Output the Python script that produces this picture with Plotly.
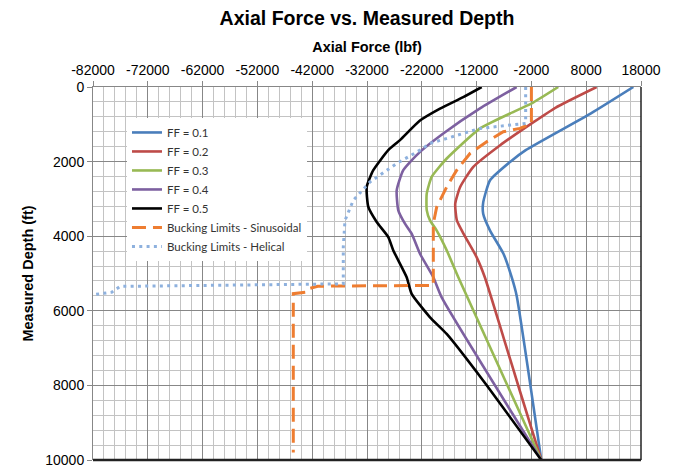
import plotly.graph_objects as go

# ---- data ----
x_ticks = [-82000, -72000, -62000, -52000, -42000, -32000, -22000, -12000, -2000, 8000, 18000]
x_tick_text = ["-82000", "-72000", "-62000", "-52000", "-42000", "-32000", "-22000", "-12000", "-2000", "8000", "18000"]
y_ticks = [0, 2000, 4000, 6000, 8000, 10000]
y_tick_text = ["0", "2000", "4000", "6000", "8000", "10000"]

ff1_x = [16600, 8870, -3040, -5900, -9550, -10800, -10800, -9550, -7100, -5600, -4700, -200]
ff1_y = [0, 707, 1693, 2010, 2500, 3100, 3400, 3850, 4470, 5100, 5590, 10000]

ff2_x = [9900, 2450, -1950, -7700, -12600, -15000, -15900, -15600, -14400, -12000, -10500, -7100, -4100, -200]
ff2_y = [0, 550, 975, 1560, 2140, 2680, 3130, 3575, 3930, 4560, 5100, 6710, 8150, 10000]

ff3_x = [2900, -1950, -5900, -11380, -17450, -20200, -21100, -21100, -20500, -19300, -17450, -15340, -200]
ff3_y = [0, 440, 710, 1110, 1917, 2410, 2860, 3300, 3575, 3844, 4380, 5100, 10000]

ff4_x = [-4700, -11380, -18080, -22330, -25380, -26580, -26290, -25070, -23850, -22330, -19900, -18370, -200]
ff4_y = [0, 573, 1245, 1740, 2230, 2770, 3306, 3664, 3933, 4471, 5100, 5640, 10000]

ff5_x = [-11073, -14430, -18680, -22330, -25980, -28115, -30850, -32057, -31757, -30232, -28115, -27200, -24760, -23850, -20500, -17460, -10780, -200]
ff5_y = [0, 270, 580, 900, 1425, 1693, 2231, 2680, 3217, 3620, 4023, 4381, 5100, 5545, 6175, 6620, 7876, 10000]

sin_x = [-2000, -2000, -4080, -7130, -10160, -13200, -15630, -17460, -19280, -19900, -19900, -41000, -42500, -43000, -45450, -45450]
sin_y = [0, 976, 1110, 1200, 1470, 1782, 2231, 2680, 3217, 3664, 5320, 5340, 5400, 5500, 5540, 9800]

hel_x = [-3050, -3050, -11380, -15630, -20500, -22330, -26580, -31450, -34500, -36015, -36326, -36326, -77070, -78590, -82000]
hel_y = [0, 976, 1110, 1290, 1513, 1693, 2051, 2545, 3037, 3575, 4293, 5277, 5345, 5502, 5570]

series = [
    ("FF = 0.1", ff1_x, ff1_y, "#4A7EBB", "solid", 2.6, "spline"),
    ("FF = 0.2", ff2_x, ff2_y, "#BE4B48", "solid", 2.6, "spline"),
    ("FF = 0.3", ff3_x, ff3_y, "#98B954", "solid", 2.6, "spline"),
    ("FF = 0.4", ff4_x, ff4_y, "#7D60A0", "solid", 2.6, "spline"),
    ("FF = 0.5", ff5_x, ff5_y, "#000000", "solid", 2.6, "spline"),
    ("Bucking Limits - Sinusoidal", sin_x, sin_y, "#EE7D31", "14px,7px", 3, "linear"),
    ("Bucking Limits - Helical", hel_x, hel_y, "#8EB1DE", "3px,4.3px", 3, "linear"),
]

fig = go.Figure()
for name, xs, ys, color, dash, w, shape in series:
    fig.add_trace(go.Scatter(x=xs, y=ys, mode="lines", name=name,
                             line=dict(color=color, width=w, dash=dash, shape=shape,
                                       smoothing=0.5 if shape == "spline" else None)))

FONT = "Liberation Sans, Arial, sans-serif"
MAJOR = "#878787"
MINOR = "#C3C3C3"

fig.update_layout(
    width=678, height=467,
    margin=dict(l=93, r=37, t=87, b=7),
    paper_bgcolor="white", plot_bgcolor="white",
    font=dict(family=FONT, color="#000000"),
    title=dict(text="Axial Force vs. Measured Depth", xref="paper", x=0.5, xanchor="center",
               yref="container", y=1 - 18 / 467, yanchor="middle",
               font=dict(family=FONT, size=19.5, weight="bold", color="#000000")),
    showlegend=True,
    legend=dict(x=0.062, y=0.917, xanchor="left", yanchor="top", bgcolor="white",
                borderwidth=0, tracegroupgap=0,
                font=dict(family="Lato, Noto Sans, sans-serif", size=11.5, color="#333333")),
)

fig.update_xaxes(
    side="top", range=[-82000, 18000], tickmode="array", tickvals=x_ticks, ticktext=x_tick_text,
    showgrid=True, gridcolor=MAJOR, gridwidth=1,
    minor=dict(tickmode="linear", tick0=-82000, dtick=2000, showgrid=True, gridcolor=MINOR, gridwidth=1),
    showline=True, linecolor=MAJOR, linewidth=1, automargin=False,
    ticks="outside", ticklen=5, tickcolor=MAJOR, zeroline=False,
    tickfont=dict(family=FONT, size=14, color="#000000"), ticklabeloverflow="allow",
    title=dict(text="Axial Force (lbf)", font=dict(family=FONT, size=14.5, weight="bold"), standoff=6),
)
fig.update_yaxes(
    range=[10000, 0], tickmode="array", tickvals=y_ticks, ticktext=y_tick_text,
    showgrid=True, gridcolor=MAJOR, gridwidth=1,
    minor=dict(tickmode="linear", tick0=0, dtick=400, showgrid=True, gridcolor=MINOR, gridwidth=1),
    showline=True, linecolor=MAJOR, linewidth=1, automargin=False,
    ticks="outside", ticklen=5, tickcolor=MAJOR, zeroline=False,
    tickfont=dict(family=FONT, size=14, color="#000000"), ticklabeloverflow="allow",
    title=dict(text="Measured Depth (ft)", font=dict(family=FONT, size=14.5, weight="bold"), standoff=8),
)

# plot-area border (right and bottom)
fig.add_shape(type="line", xref="paper", yref="paper", x0=1, x1=1, y0=0, y1=1,
              line=dict(color="#222222", width=1.5), layer="above")
fig.add_shape(type="line", xref="paper", yref="paper", x0=0, x1=1, y0=0, y1=0,
              line=dict(color="#222222", width=2.5), layer="above")

fig.write_html("out.html")
